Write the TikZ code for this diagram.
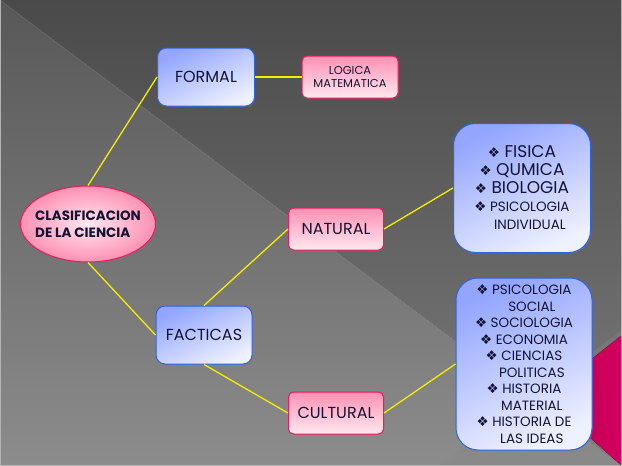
\documentclass[tikz,border=0pt]{standalone}
\usepackage{fontspec}
\setmainfont{Poppins}
\newfontfamily\symfont{DejaVu Sans}
\usetikzlibrary{shapes.geometric,shadows}

\definecolor{bgtopdark}{HTML}{4A4A4A}
\definecolor{bgbotdark}{HTML}{7C7C7C}
\definecolor{bgtoplight}{HTML}{585858}
\definecolor{bgbotlight}{HTML}{8C8C8C}
\definecolor{bgframe}{HTML}{B4B4B4}
\definecolor{magentabg}{HTML}{D4005F}
\definecolor{blueedge}{HTML}{2F62E0}
\definecolor{bluetop}{HTML}{93A5FF}
\definecolor{bluebot}{HTML}{EEF1FF}
\definecolor{pinkedge}{HTML}{E8195E}
\definecolor{pinktop}{HTML}{FF90B4}
\definecolor{pinkbot}{HTML}{FFE8F0}
\definecolor{inktext}{HTML}{141432}
\definecolor{linkyellow}{HTML}{F2EE00}

\newcommand{\cbul}{{\symfont\fontsize{13.5}{10}\selectfont ❖}\ }
\newcommand{\bigline}{\fontsize{17}{18}\selectfont}
\newcommand{\smallline}{\fontsize{13.5}{17}\selectfont}

\begin{document}
\begin{tikzpicture}[x=1pt,y=-1pt]
\tikzset{
  bluebox/.style={rectangle,rounded corners=9pt,draw=blueedge,line width=1pt,
    top color=bluetop,bottom color=bluebot,shading angle=25,text=inktext,
    drop shadow={shadow xshift=0.6pt,shadow yshift=-0.6pt,opacity=0.45}},
  pinkbox/.style={rectangle,rounded corners=5pt,draw=pinkedge,line width=1pt,
    top color=pinktop,bottom color=pinkbot,text=inktext,
    drop shadow={shadow xshift=0.6pt,shadow yshift=-0.6pt,opacity=0.45}},
  listbox/.style={bluebox,rounded corners=22pt,align=center,inner sep=2pt},
  link/.style={draw=linkyellow,line width=1.3pt}
}
\useasboundingbox (0,0) rectangle (622,466);
% background
\fill[top color=bgtopdark,bottom color=bgbotdark] (0,0) -- (622,0) -- (622,466) -- cycle;
\fill[top color=bgtoplight,bottom color=bgbotlight] (0,0) -- (622,466) -- (0,466) -- cycle;
\draw[white,opacity=0.2,line width=0.6pt] (0,0) -- (622,466);
\fill[gray!95!white,opacity=0.4] (440,466) -- (622,330) -- (622,466) -- cycle;
\fill[left color=magentabg!85!black,right color=magentabg] (544,397) -- (622,335) -- (622,466) -- cycle;
\draw[bgframe,line width=1.2pt] (0.6,0) -- (0.6,465.4) -- (621.4,465.4) -- (621.4,0);

\node[ellipse,draw=pinkedge,line width=1pt,inner color=pinkbot,outer color=pinktop,
  minimum width=135pt,minimum height=76pt,inner xsep=-14pt,inner ysep=0pt,
  align=left,text=inktext,font=\bfseries\fontsize{13.5}{16.5}\selectfont,
  drop shadow={shadow xshift=0.6pt,shadow yshift=-0.6pt,opacity=0.45}]
  (n_clas) at (88,224) {CLASIFICACION\\DE LA CIENCIA};
\node[bluebox,minimum width=97pt,minimum height=58pt,font=\fontsize{16}{18}\selectfont] (n_formal) at (206,77) {FORMAL};
\node[bluebox,minimum width=96pt,minimum height=58pt,font=\fontsize{16}{18}\selectfont] (n_fact) at (204,335) {FACTICAS};
\node[pinkbox,minimum width=96pt,minimum height=42pt,align=center,font=\fontsize{11.5}{13}\selectfont] (n_logica) at (350,77) {LOGICA\\MATEMATICA};
\node[pinkbox,minimum width=95pt,minimum height=42pt,font=\fontsize{16}{18}\selectfont] (n_nat) at (336,229) {NATURAL};
\node[pinkbox,minimum width=95pt,minimum height=42pt,font=\fontsize{16}{18}\selectfont] (n_cult) at (336,413) {CULTURAL};
\node[listbox,minimum width=137pt,minimum height=129pt,font=\bigline] (n_natlist) at (522,188)
  {\bigline\cbul FISICA\\ \bigline\cbul QUMICA\\ \bigline\cbul BIOLOGIA\\
   \smallline\cbul PSICOLOGIA\\ \smallline\phantom{\cbul}INDIVIDUAL};
\node[listbox,minimum width=136pt,minimum height=172pt,font=\fontsize{13.5}{16.5}\selectfont] (n_cultlist) at (524,364)
  {\cbul PSICOLOGIA\\ \phantom{\cbul}SOCIAL\\ \cbul SOCIOLOGIA\\ \cbul ECONOMIA\\
   \cbul CIENCIAS\\ \phantom{\cbul}POLITICAS\\ \cbul HISTORIA\\ \phantom{\cbul}MATERIAL\\
   \cbul HISTORIA DE\\ \phantom{\cbul}LAS IDEAS};

\draw[link] (n_clas.north) -- (n_formal.west);
\draw[link] (n_clas.south) -- (n_fact.west);
\draw[link] (n_formal.east) -- (n_logica.west);
\draw[link] (n_fact.north) -- (n_nat.west);
\draw[link] (n_fact.south) -- (n_cult.west);
\draw[link] (n_nat.east) -- (n_natlist.west);
\draw[link] (n_cult.east) -- (n_cultlist.west);
\end{tikzpicture}
\end{document}
